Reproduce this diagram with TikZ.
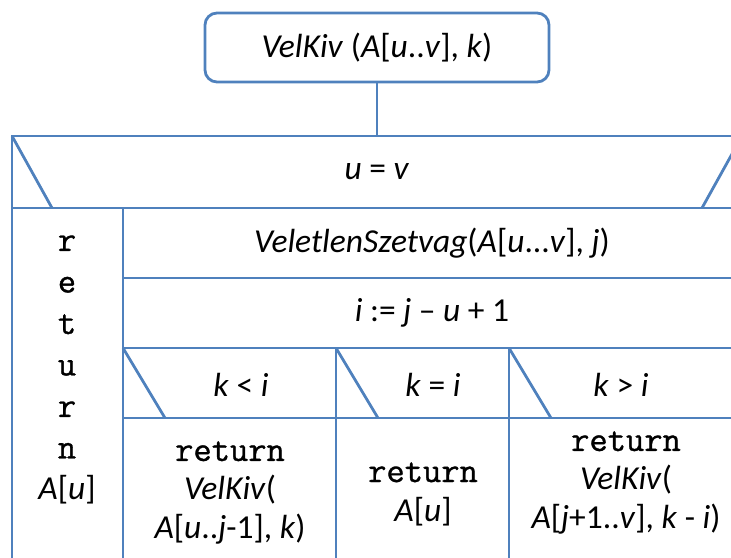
\documentclass[tikz,border=0pt]{standalone}
\usepackage{fontspec}
\setmainfont{Carlito}
\newfontfamily\retfont[Scale=1.06,FakeBold=1]{Latin Modern Mono}
\usepackage{tikz}
\usetikzlibrary{%
  positioning% wg. " of "
}
\definecolor{nsblue}{RGB}{79,129,189}
\newcommand{\kw}[1]{{\retfont #1}}

\begin{document}
\begin{tikzpicture}[x=1pt, y=-1pt,
    every node/.style={font=\fontsize{33.5}{39}\selectfont, align=center, inner sep=0pt},
    nsline/.style={draw=nsblue, line width=2.8pt},
    head/.style={nsline, rounded corners=12pt, minimum width=344pt, minimum height=69pt},
    column/.style={font=\fontsize{33.5}{41.5}\selectfont}]
    \useasboundingbox (0,0) rectangle (731,557);
    \clip (0,0) rectangle (731,557);

    %head
    \node[head] (velkiv) at (377,47.5) {\textit{VelKiv} (\textit{A}[\textit{u}..\textit{v}], \textit{k})};
    \coordinate (frametop) at (377,136);
    \draw[nsline] (velkiv) -- (frametop);

    %frame and rows
    \draw[nsline] (12,565) -- (12,136) -- (750,136);
    \draw[nsline] (12,208) -- (750,208);
    \draw[nsline] (12,136) -- (52,208);
    \draw[nsline] (742,136) -- (702,208);
    \draw[nsline] (123,208) -- (123,565);
    \draw[nsline] (123,278) -- (750,278);
    \draw[nsline] (123,348) -- (750,348);
    \draw[nsline] (123,418) -- (750,418);

    %case columns
    \draw[nsline] (336,348) -- (336,565);
    \draw[nsline] (509,348) -- (509,565);
    \draw[nsline] (123,348) -- (165,418);
    \draw[nsline] (336,348) -- (378,418);
    \draw[nsline] (509,348) -- (551,418);

    %texts
    \node (uv) at (377,172) {\textit{u} = \textit{v}};
    \node (szetvag) at (432,243) {\textit{VeletlenSzetvag}(\textit{A}[\textit{u}...\textit{v}], \textit{j})};
    \node (assign) at (432,313) {\textit{i} := \textit{j} – \textit{u} + 1};
    \node (klt) at (241,385) {\textit{k} < \textit{i}};
    \node (keq) at (433,385) {\textit{k} = \textit{i}};
    \node (kgt) at (621,385) {\textit{k} > \textit{i}};

    \node[column] (retu) at (67,370) {\kw{r}\\\kw{e}\\\kw{t}\\\kw{u}\\\kw{r}\\\kw{n}\\\textit{A}[\textit{u}]};
    \node (retleft) at (230,493) {\kw{return}\\\textit{VelKiv}(\\\textit{A}[\textit{u}..\textit{j}-1], \textit{k})};
    \node (retmid) at (423,494) {\kw{return}\\\textit{A}[\textit{u}]};
    \node (retright) at (626,483) {\kw{return}\\\textit{VelKiv}(\\\textit{A}[\textit{j}+1..\textit{v}], \textit{k} - \textit{i})};
\end{tikzpicture}
\end{document}
